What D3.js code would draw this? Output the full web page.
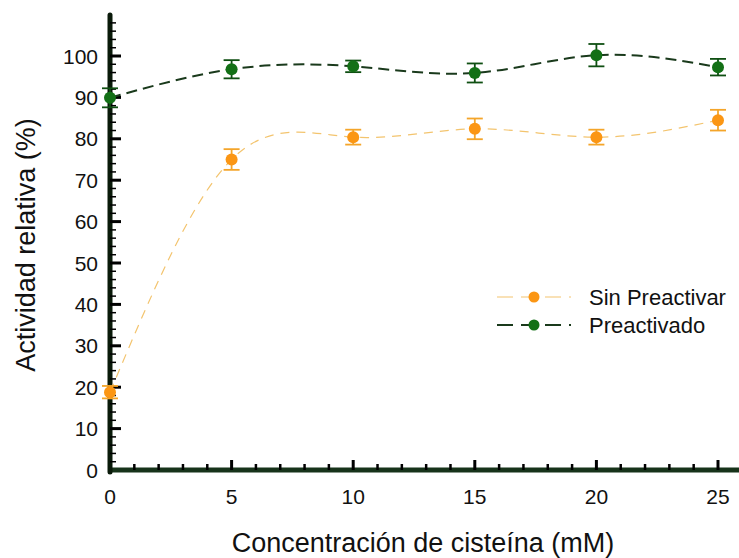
<!DOCTYPE html>
<html>
  <head>
    <meta charset="utf-8">
    <title>Actividad relativa</title>
    <style>
      body { margin: 0; background: #fff; }
      text { font-family: 'Liberation Sans', Arial, sans-serif; fill: #111; }
    </style>
  </head>
  <body>
    <svg id="chart"></svg>
  </body>
  <script type="text/javascript" src="https://cdn.jsdelivr.net/npm/d3@7"></script>
  <script type="text/javascript">
    // datos
    const conc = [0, 5, 10, 15, 20, 25];
    const sinPreactivar = [18.8, 75.0, 80.4, 82.4, 80.4, 84.5];
    const sinPreactivarErr = [1.5, 2.5, 1.8, 2.5, 1.8, 2.5];
    const preactivado = [89.9, 96.8, 97.5, 95.9, 100.2, 97.3];
    const preactivadoErr = [2.3, 2.2, 1.4, 2.3, 2.7, 2.0];
    const xTicks = [0, 5, 10, 15, 20, 25];
    const yTicks = [0, 10, 20, 30, 40, 50, 60, 70, 80, 90, 100];
    const seriesNames = ['Sin Preactivar', 'Preactivado'];

    const [width, height] = [739, 558];
    const svg = d3.select('#chart')
      .attr('width', width)
      .attr('height', height);

    const x = d3.scaleLinear().domain([0, 25]).range([110, 718]);
    const y = d3.scaleLinear().domain([0, 100]).range([470, 56]);

    // ejes
    svg.append('line')
      .attr('x1', x(0)).attr('x2', 739)
      .attr('y1', y(0)).attr('y2', y(0))
      .attr('stroke', '#17331a').attr('stroke-width', 5);
    svg.append('line')
      .attr('x1', x(0)).attr('x2', x(0))
      .attr('y1', y(0) + 2).attr('y2', 15)
      .attr('stroke', '#0a1a0a').attr('stroke-width', 5)
      .attr('stroke-linecap', 'round');

    // ticks eje x (hacia dentro)
    const xAxis = svg.append('g').attr('transform', 'translate(0,' + y(0) + ')');
    xAxis.selectAll('line')
      .data(d3.range(1, 27))
      .enter().append('line')
      .attr('x1', d => x(d)).attr('x2', d => x(d))
      .attr('y1', 0).attr('y2', d => d % 5 === 0 ? -10 : -6)
      .attr('stroke', '#000').attr('stroke-width', d => d % 5 === 0 ? 3 : 2.5);
    xAxis.selectAll('text')
      .data(xTicks)
      .enter().append('text')
      .attr('x', d => x(d)).attr('y', 34)
      .attr('text-anchor', 'middle')
      .style('font-size', '21px')
      .text(d => d);

    // ticks eje y
    const yAxis = svg.append('g').attr('transform', 'translate(' + x(0) + ',0)');
    yAxis.selectAll('line')
      .data(d3.range(2, 110, 2))
      .enter().append('line')
      .attr('x1', 0).attr('x2', d => d % 10 === 0 ? 11 : 6)
      .attr('y1', d => y(d)).attr('y2', d => y(d))
      .attr('stroke', '#000').attr('stroke-width', d => d % 10 === 0 ? 3 : 1.5);
    yAxis.selectAll('text')
      .data(yTicks)
      .enter().append('text')
      .attr('x', -12).attr('y', d => y(d))
      .attr('dy', '0.36em')
      .attr('text-anchor', 'end')
      .style('font-size', '21px')
      .text(d => d);

    // titulos
    svg.append('text')
      .attr('transform', 'translate(35,245) rotate(-90)')
      .attr('text-anchor', 'middle')
      .style('font-size', '27px')
      .text('Actividad relativa (%)');
    svg.append('text')
      .attr('x', 423).attr('y', 552)
      .attr('text-anchor', 'middle')
      .style('font-size', '27px')
      .text('Concentración de cisteína (mM)');

    const series = [
      { name: seriesNames[0], vals: sinPreactivar, err: sinPreactivarErr,
        line: '#f3c46e', lw: 1.2, dash: '9,7', dot: '#fb9614', bar: '#f4a52a' },
      { name: seriesNames[1], vals: preactivado, err: preactivadoErr,
        line: '#1a3a1c', lw: 2, dash: '11,6', dot: '#137016', bar: '#0f4f12' }
    ];

    const line = d3.line()
      .x(d => x(d[0]))
      .y(d => y(d[1]))
      .curve(d3.curveNatural);

    series.forEach(function(s) {
      const pts = conc.map((c, i) => [c, s.vals[i], s.err[i]]);
      svg.append('path')
        .attr('d', line(pts))
        .attr('fill', 'none')
        .attr('stroke', s.line)
        .attr('stroke-width', s.lw)
        .attr('stroke-dasharray', s.dash);

      const g = svg.append('g')
        .attr('stroke', s.bar)
        .attr('stroke-width', 1.8);
      g.selectAll('line.v')
        .data(pts).enter().append('line')
        .attr('x1', d => x(d[0])).attr('x2', d => x(d[0]))
        .attr('y1', d => y(d[1] - d[2])).attr('y2', d => y(d[1] + d[2]));
      g.selectAll('line.t')
        .data(pts).enter().append('line')
        .attr('x1', d => x(d[0]) - 8).attr('x2', d => x(d[0]) + 8)
        .attr('y1', d => y(d[1] + d[2])).attr('y2', d => y(d[1] + d[2]));
      g.selectAll('line.b')
        .data(pts).enter().append('line')
        .attr('x1', d => x(d[0]) - 8).attr('x2', d => x(d[0]) + 8)
        .attr('y1', d => y(d[1] - d[2])).attr('y2', d => y(d[1] - d[2]));

      svg.append('g').selectAll('circle')
        .data(pts).enter().append('circle')
        .attr('cx', d => x(d[0]))
        .attr('cy', d => y(d[1]))
        .attr('r', 6)
        .attr('fill', s.dot);
    });

    // leyenda
    const legend = svg.append('g')
      .attr('transform', 'translate(497,297)')
      .selectAll('g')
      .data(series)
      .enter().append('g')
      .attr('transform', (d, i) => 'translate(0,' + i * 28 + ')');
    legend.append('line')
      .attr('x1', 0).attr('x2', 74)
      .attr('stroke', d => d.line)
      .attr('stroke-width', d => d.lw)
      .attr('stroke-dasharray', '16,8');
    legend.append('circle')
      .attr('cx', 37).attr('r', 5.5)
      .attr('fill', d => d.dot);
    legend.append('text')
      .attr('x', 92).attr('dy', '0.36em')
      .style('font-size', '22px')
      .text(d => d.name);
  </script>
</html>
